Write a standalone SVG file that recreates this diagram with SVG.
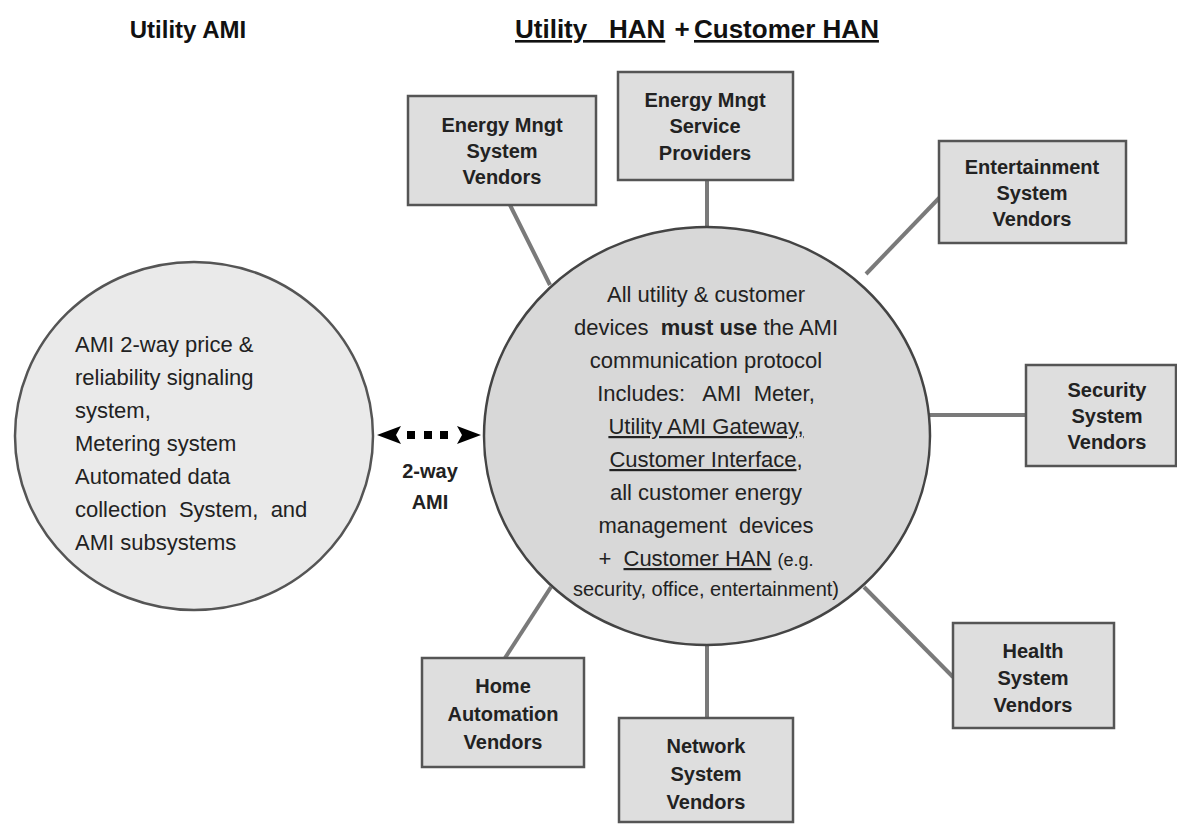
<svg xmlns="http://www.w3.org/2000/svg" width="1177" height="824" viewBox="0 0 1177 824">
<defs>
<marker id="ah" markerUnits="userSpaceOnUse" markerWidth="26" markerHeight="22" refX="2" refY="11" orient="auto-start-reverse">
<path d="M0,2 L24,11 L0,20 L5,11 Z" fill="#000"/>
</marker>
<style>
.box{fill:#dedede;stroke:#555;stroke-width:2.5}
.conn{stroke:#7a7a7a;stroke-width:4;fill:none}
.bt{font-family:"Liberation Sans",Arial,sans-serif;font-weight:bold;font-size:20px;fill:#222;text-anchor:middle}
.ct{font-family:"Liberation Sans",Arial,sans-serif;font-size:22px;fill:#222;text-anchor:middle}
.lt{font-family:"Liberation Sans",Arial,sans-serif;font-size:22px;fill:#222}
.title{font-family:"Liberation Sans",Arial,sans-serif;font-weight:bold;font-size:24px;fill:#111}
</style>
</defs>
<rect width="1177" height="824" fill="#fff"/>

<g id="titles">
<text class="title" x="188" y="38" text-anchor="middle">Utility AMI</text>
<text class="title" x="515" y="38" style="white-space:pre;font-size:26px" text-decoration="underline">Utility   HAN</text>
<text class="title" x="682" y="38" style="font-size:26px" text-anchor="middle">+</text>
<text class="title" x="694" y="38" style="font-size:26px" text-decoration="underline">Customer HAN</text>
</g>

<g id="connectors">
<line class="conn" x1="510" y1="205" x2="550" y2="285"/>
<line class="conn" x1="707" y1="180" x2="707" y2="228"/>
<line class="conn" x1="942" y1="195" x2="866" y2="274"/>
<line class="conn" x1="929" y1="415" x2="1026" y2="415"/>
<line class="conn" x1="864" y1="587" x2="953" y2="677"/>
<line class="conn" x1="551" y1="587" x2="505" y2="658"/>
<line class="conn" x1="707" y1="644" x2="707" y2="718"/>
<line x1="399" y1="435" x2="459" y2="435" stroke="#000" stroke-width="8" stroke-dasharray="0 8 8 9 8 8 8 11" marker-start="url(#ah)" marker-end="url(#ah)"/>
<text x="430" y="478" font-family="Liberation Sans, Arial, sans-serif" font-weight="bold" font-size="20" fill="#222" text-anchor="middle">2-way</text>
<text x="430" y="509" font-family="Liberation Sans, Arial, sans-serif" font-weight="bold" font-size="20" fill="#222" text-anchor="middle">AMI</text>
</g>

<g id="utility-ami">
<ellipse cx="194" cy="436" rx="179" ry="174" fill="#eaeaea" stroke="#555" stroke-width="2.5"/>
<text class="lt" x="75" y="352">AMI 2-way price &amp;</text>
<text class="lt" x="75" y="385">reliability signaling</text>
<text class="lt" x="75" y="418">system,</text>
<text class="lt" x="75" y="451">Metering system</text>
<text class="lt" x="75" y="484">Automated data</text>
<text class="lt" x="75" y="517" style="white-space:pre">collection  System,  and</text>
<text class="lt" x="75" y="550">AMI subsystems</text>
</g>

<g id="han">
<ellipse cx="707" cy="436" rx="223" ry="209" fill="#d8d8d8" stroke="#444" stroke-width="2.5"/>
<text class="ct" x="706" y="302">All utility &amp; customer</text>
<text class="ct" x="706" y="335" style="white-space:pre">devices  <tspan font-weight="bold">must use</tspan> the AMI</text>
<text class="ct" x="706" y="368">communication protocol</text>
<text class="ct" x="706" y="401" style="white-space:pre">Includes:   AMI  Meter,</text>
<text class="ct" x="706" y="434" text-decoration="underline">Utility AMI Gateway,</text>
<text class="ct" x="706" y="467"><tspan text-decoration="underline">Customer Interface</tspan>,</text>
<text class="ct" x="706" y="500">all customer energy</text>
<text class="ct" x="706" y="533" style="white-space:pre">management  devices</text>
<text class="ct" x="706" y="566" style="white-space:pre">+  <tspan text-decoration="underline">Customer HAN</tspan> <tspan font-size="18">(e.g.</tspan></text>
<text class="ct" x="706" y="596" style="font-size:20px">security, office, entertainment)</text>
</g>

<g id="ems-vendors">
<rect class="box" x="408" y="96" width="188" height="109"/>
<text class="bt" x="502" y="132">Energy Mngt</text>
<text class="bt" x="502" y="158">System</text>
<text class="bt" x="502" y="184">Vendors</text>
</g>

<g id="ems-providers">
<rect class="box" x="618" y="72" width="175" height="108"/>
<text class="bt" x="705" y="107">Energy Mngt</text>
<text class="bt" x="705" y="133">Service</text>
<text class="bt" x="705" y="160">Providers</text>
</g>

<g id="entertainment">
<rect class="box" x="939" y="141" width="187" height="102"/>
<text class="bt" x="1032" y="174">Entertainment</text>
<text class="bt" x="1032" y="200">System</text>
<text class="bt" x="1032" y="226">Vendors</text>
</g>

<g id="security">
<rect class="box" x="1026" y="365" width="150" height="101"/>
<text class="bt" x="1107" y="397">Security</text>
<text class="bt" x="1107" y="423">System</text>
<text class="bt" x="1107" y="449">Vendors</text>
</g>

<g id="health">
<rect class="box" x="953" y="623" width="161" height="105"/>
<text class="bt" x="1033" y="658">Health</text>
<text class="bt" x="1033" y="685">System</text>
<text class="bt" x="1033" y="712">Vendors</text>
</g>

<g id="home-automation">
<rect class="box" x="422" y="658" width="162" height="109"/>
<text class="bt" x="503" y="693">Home</text>
<text class="bt" x="503" y="721">Automation</text>
<text class="bt" x="503" y="749">Vendors</text>
</g>

<g id="network">
<rect class="box" x="619" y="718" width="174" height="104"/>
<text class="bt" x="706" y="753">Network</text>
<text class="bt" x="706" y="781">System</text>
<text class="bt" x="706" y="809">Vendors</text>
</g>
</svg>
